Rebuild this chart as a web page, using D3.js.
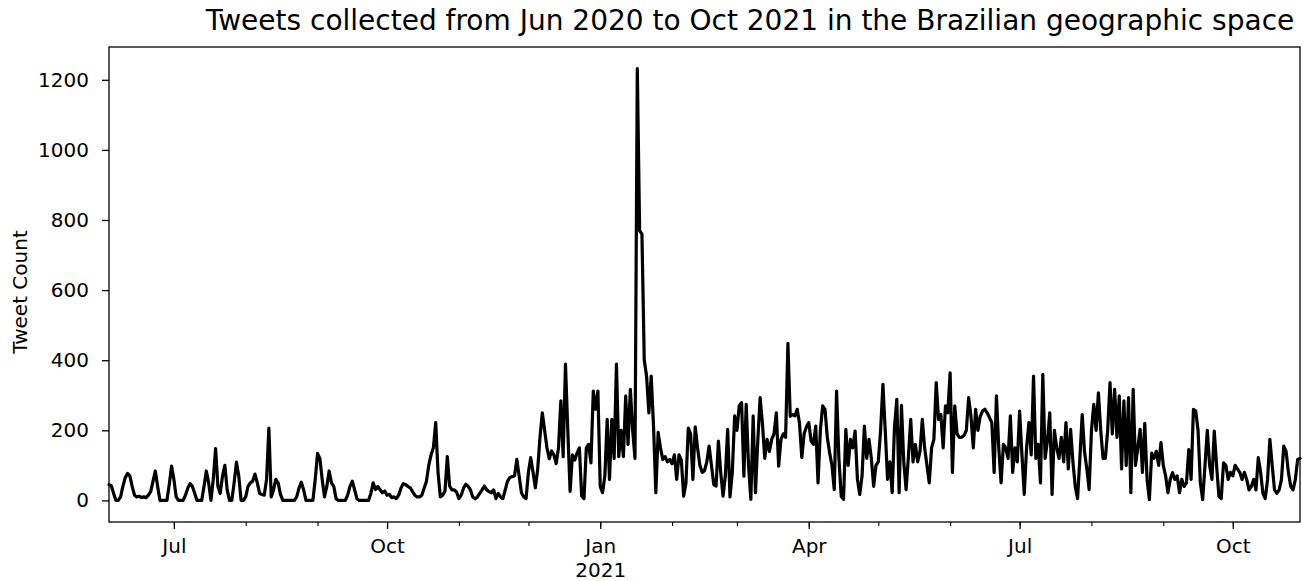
<!DOCTYPE html>
<html>
<head>
<meta charset="utf-8">
<script src="https://cdn.jsdelivr.net/npm/d3@7/dist/d3.min.js"></script>
<style>
  html, body { margin: 0; padding: 0; background: #fff; }
  svg { display: block; font-family: "DejaVu Sans", sans-serif; }
</style>
</head>
<body>
<svg id="chart" width="1303" height="581"></svg>
<script>
// Daily tweet counts, one array per month (first day of series: 2020-06-03)
const startDate = "2020-06-03";
const jun2020 = [45,42,20,0,0,10,40,65,77,70,40,15,10,12,8,10,8,15,25,55,84,40,0,0,0,0,45,98];
const jul2020 = [60,10,0,0,0,15,35,48,40,20,0,0,0,40,84,50,0,60,148,40,20,70,100,30,0,0,50,109,70,0,0];
const aug2020 = [10,40,50,55,75,50,20,17,15,60,206,10,30,60,50,17,0,0,0,0,0,0,10,35,52,30,0,0,0,0,60];
const sep2020 = [134,120,60,10,40,84,50,40,5,0,0,0,0,15,40,55,30,5,0,0,0,0,0,20,50,31,40,30,22,27];
const oct2020 = [15,17,8,10,5,15,35,48,45,40,36,25,15,10,10,15,35,55,100,130,150,222,80,10,15,26,125,41,30,30,24];
const nov2020 = [5,15,35,46,40,30,10,5,10,20,30,41,30,25,22,30,5,20,10,5,30,55,65,68,70,117,70,22,10,5];
const dec2020 = [80,122,80,36,88,180,250,200,150,119,141,130,105,150,284,125,389,200,26,130,115,135,150,12,5,150,160,107,312,260,312];
const jan2021 = [40,22,70,231,60,231,120,389,125,200,125,298,160,317,200,120,1232,770,760,400,355,250,355,212,22,194,150,117,125,110,117];
const feb2021 = [105,130,60,130,115,12,50,206,190,60,210,150,100,80,85,110,155,100,45,41,169,80,12,70,203,10,80,241];
const mar2021 = [200,270,279,69,274,100,3,241,22,170,293,220,120,174,140,174,190,250,98,174,190,180,448,240,245,241,260,220,122,190,210];
const apr2021 = [222,170,160,212,50,200,270,260,180,136,100,31,312,120,12,3,203,100,174,150,198,60,17,70,212,120,174,120,40,100];
const may2021 = [110,200,331,200,60,110,22,210,288,22,271,110,31,125,231,110,160,110,140,231,150,100,50,150,174,336,231,245,150,270,250];
const jun2021 = [364,80,270,190,180,180,185,200,293,240,150,260,200,240,255,260,250,236,222,80,298,150,50,160,150,120,241,80,150,110];
const jul2021 = [255,130,17,150,222,130,355,120,160,50,360,120,170,250,17,200,150,120,180,110,222,90,203,110,40,5,120,245,140,90,31];
const aug2021 = [200,274,200,307,200,120,120,200,336,190,317,180,298,90,284,100,293,22,317,100,150,203,80,220,60,2,135,120,140,100,165];
const sep2021 = [100,70,22,60,79,60,70,22,60,40,50,145,60,260,255,200,50,2,100,200,100,60,198,100,12,5,107,100,60,80];
const oct2021 = [70,100,90,80,60,80,60,30,40,60,30,122,80,20,5,60,174,100,30,20,30,60,155,140,80,40,30,60,117,120];

// Axis ticks
const yTicks = [0, 200, 400, 600, 800, 1000, 1200];
const xMajorTicks = ["2020-07-01", "2020-10-01", "2021-01-01", "2021-04-01", "2021-07-01", "2021-10-01"];
const xMajorLabels = ["Jul", "Oct", "Jan", "Apr", "Jul", "Oct"];
const xYearLabels = ["", "", "2021", "", "", ""];

const titleText = "Tweets collected from Jun 2020 to Oct 2021 in the Brazilian geographic space";
const yLabelText = "Tweet Count";

// Build the daily series
const parse = d3.utcParse("%Y-%m-%d");
const counts = [].concat(jun2020, jul2020, aug2020, sep2020, oct2020, nov2020, dec2020,
  jan2021, feb2021, mar2021, apr2021, may2021, jun2021, jul2021, aug2021, sep2021, oct2021);
const t0 = parse(startDate);
const series = counts.map((v, i) => ({ date: d3.utcDay.offset(t0, i), value: v }));

// Axes box
const box = { left: 109, right: 1300, top: 47, bottom: 522 };
const tickFont = "20px";

const x = d3.scaleUtc()
  .domain(d3.extent(series, d => d.date))
  .range([box.left, box.right]);

// 5% vertical padding around the data range
const [vmin, vmax] = d3.extent(series, d => d.value);
const pad = (vmax - vmin) * 0.05;
const y = d3.scaleLinear()
  .domain([vmin - pad, vmax + pad])
  .range([box.bottom, box.top]);

const svg = d3.select("#chart");

// Data line
svg.append("path")
  .datum(series)
  .attr("fill", "none")
  .attr("stroke", "#000")
  .attr("stroke-width", 3.2)
  .attr("stroke-linejoin", "round")
  .attr("stroke-linecap", "round")
  .attr("d", d3.line().x(d => x(d.date)).y(d => y(d.value)));

// Y axis
const yAxis = d3.axisLeft(y)
  .tickValues(yTicks)
  .tickSize(7)
  .tickPadding(13)
  .tickFormat(d3.format("d"));
const gy = svg.append("g")
  .attr("transform", `translate(${box.left},0)`)
  .call(yAxis);
gy.select(".domain").remove();
gy.selectAll(".tick line").attr("stroke", "#000").attr("stroke-width", 1.3);
gy.selectAll(".tick text")
  .attr("fill", "#000")
  .style("font-size", tickFont)
  .style("font-family", "'DejaVu Sans', sans-serif");

// X axis: monthly minor ticks, quarterly labelled major ticks
const minorTicks = d3.utcMonth.range(x.domain()[0], x.domain()[1]);
const gxMinor = svg.append("g")
  .attr("transform", `translate(0,${box.bottom})`)
  .call(d3.axisBottom(x).tickValues(minorTicks).tickSize(4).tickFormat(""));
gxMinor.select(".domain").remove();
gxMinor.selectAll(".tick line").attr("stroke", "#000").attr("stroke-width", 1.1);

const majorDates = xMajorTicks.map(parse);
const gx = svg.append("g")
  .attr("transform", `translate(0,${box.bottom})`)
  .call(d3.axisBottom(x).tickValues(majorDates).tickSize(7).tickPadding(10)
    .tickFormat((d, i) => xMajorLabels[i]));
gx.select(".domain").remove();
gx.selectAll(".tick line").attr("stroke", "#000").attr("stroke-width", 1.3);
gx.selectAll(".tick text")
  .attr("fill", "#000")
  .style("font-size", tickFont)
  .style("font-family", "'DejaVu Sans', sans-serif");
gx.selectAll(".tick").each(function(d, i) {
  if (xYearLabels[i]) {
    d3.select(this).append("text")
      .attr("fill", "#000")
      .attr("y", 41)
      .attr("dy", "0.71em")
      .attr("text-anchor", "middle")
      .style("font-size", tickFont)
      .style("font-family", "'DejaVu Sans', sans-serif")
      .text(xYearLabels[i]);
  }
});

// Axes frame
svg.append("rect")
  .attr("x", box.left)
  .attr("y", box.top)
  .attr("width", box.right - box.left)
  .attr("height", box.bottom - box.top)
  .attr("fill", "none")
  .attr("stroke", "#000")
  .attr("stroke-width", 1.3);

// Title
svg.append("text")
  .attr("x", 750)
  .attr("y", 30)
  .attr("text-anchor", "middle")
  .style("font-size", "28px")
  .text(titleText);

// Y label
svg.append("text")
  .attr("transform", `translate(27,292) rotate(-90)`)
  .attr("text-anchor", "middle")
  .style("font-size", tickFont)
  .text(yLabelText);
</script>
</body>
</html>
